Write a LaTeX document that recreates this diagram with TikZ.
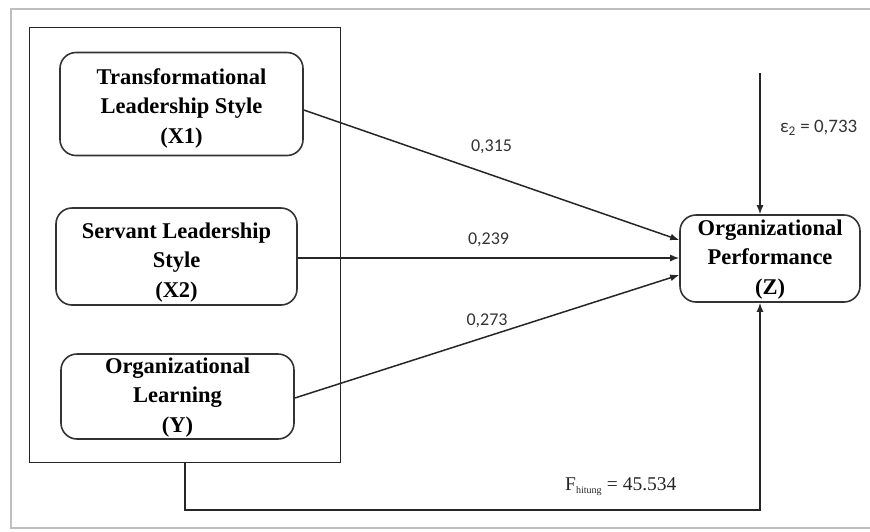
\documentclass[tikz,border=0pt]{standalone}
\usepackage{fontspec}
\setmainfont{Liberation Serif}
\newfontfamily\numfont{Carlito}
\usetikzlibrary{arrows.meta}
\begin{document}
\begin{tikzpicture}[x=1pt,y=-1pt,
  var/.style={draw=black!80,line width=1.6pt,rounded corners=16pt,inner sep=0pt},
  vtext/.style={align=center,font=\fontsize{22.5}{29.5}\selectfont\bfseries,inner sep=0pt},
  conn/.style={line width=1.5pt,draw=black!85,-{Latex[length=9pt,width=7pt]}},
  coef/.style={font=\numfont\fontsize{18}{20}\selectfont,text=black!80}]
\useasboundingbox (0,0) rectangle (870,531);
\draw[black!25,line width=2pt] (875,9) -- (11,9) -- (11,528) -- (875,528);
\node[draw=black!85,line width=1.4pt,minimum width=311pt,minimum height=435pt,anchor=north west,inner sep=0pt] (frame) at (29,27) {};
\node[var,minimum width=243pt,minimum height=103pt] (x1) at (181.5,104) {};
\node[vtext] (x1t) at ([yshift=-4pt]x1.center) {Transformational\\Leadership Style\\(X1)};
\node[var,minimum width=241pt,minimum height=97pt] (x2) at (176.5,256.5) {};
\node[vtext] (x2t) at ([yshift=-6pt]x2.center) {Servant Leadership\\Style\\(X2)};
\node[var,minimum width=233pt,minimum height=85pt] (y) at (177.5,396.5) {};
\node[vtext] (yt) at ([yshift=-1pt]y.center) {Organizational\\Learning\\(Y)};
\node[var,minimum width=180pt,minimum height=87pt] (z) at (770,258.5) {};
\node[vtext] (zt) at ([yshift=-1pt]z.center) {Organizational\\Performance\\(Z)};
\coordinate (e) at (760,73);
\coordinate (b1) at (185,510);
\coordinate (b2) at (760,510);
\draw[conn] (x1.east |- 0,110) -- (z.west |- 0,240) node[coef,pos=0.5,above=17pt] {0,315};
\draw[conn] (x2.east |- 0,258) -- (z.west |- 0,258) node[coef,pos=0.5,above=7pt] {0,239};
\draw[conn] (y.east |- 0,398) -- (z.west |- 0,275) node[coef,pos=0.5,above=5pt] {0,273};
\draw[conn] (e) -- (z.north -| e) node[coef,font=\numfont\fontsize{19}{21}\selectfont,pos=0.39,right=16pt] (eps) {ε\textsubscript{2} = 0,733};
\draw[conn] (frame.south -| b1) -- (b1) -- (b2) -- (z.south -| b2);
\node[font=\fontsize{19.5}{22}\selectfont,anchor=west,text=black!85,inner sep=0pt] (f) at (565,487) {F\textsubscript{\fontsize{10}{11}\selectfont hitung} = 45.534};
\end{tikzpicture}
\end{document}
